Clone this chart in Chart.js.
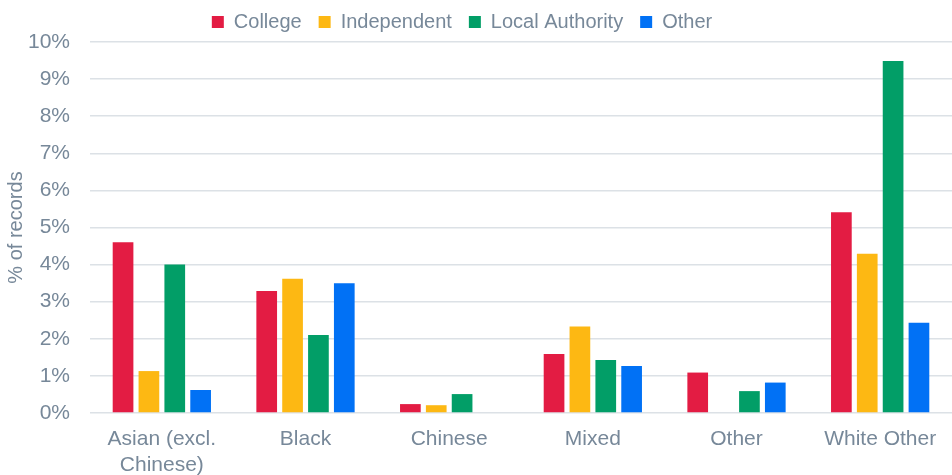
<!DOCTYPE html>
<html>
<head>
<meta charset="utf-8">
<script src="https://cdn.jsdelivr.net/npm/chart.js@4/dist/chart.umd.min.js"></script>
<style>
  html, body { margin: 0; padding: 0; background: #fff; }
  #wrap { width: 952px; height: 475px; }
</style>
</head>
<body>
<div id="wrap"><canvas id="c" width="952" height="475"></canvas></div>
<script>
// Ethnic group categories (multi-line labels where they wrap)
const categories = [['Asian (excl.', 'Chinese)'], 'Black', 'Chinese', 'Mixed', 'Other', 'White Other'];

// Share of records (%) by provider type
const college        = [4.6, 3.29, 0.24, 1.59, 1.09, 5.41];
const independent    = [1.13, 3.62, 0.21, 2.33, 0, 4.29];
const localAuthority = [4.0, 2.1, 0.51, 1.43, 0.59, 9.49];
const other          = [0.62, 3.5, 0, 1.27, 0.82, 2.43];

const seriesNames = ['College', 'Independent', 'Local Authority', 'Other'];
const seriesColors = ['#E31C43', '#FDB813', '#029E67', '#0171F5'];

// Y axis: 0% to 10% in 1% steps
const yMin = 0, yMax = 10, yStep = 1;

const textColor = '#778899';
const fontFamily = '"Liberation Sans", Arial, sans-serif';

const seriesValues = [college, independent, localAuthority, other];

// Nudge the legend row a little to the left of the canvas centre
const legendShift = {
  id: 'legendShift',
  afterLayout(chart) {
    if (chart.legend) {
      chart.legend.left -= 16;
      chart.legend.right -= 16;
    }
  }
};

new Chart(document.getElementById('c'), {
  type: 'bar',
  data: {
    labels: categories,
    datasets: seriesNames.map((name, i) => ({
      label: name,
      data: seriesValues[i],
      backgroundColor: seriesColors[i],
      borderWidth: 0,
      categoryPercentage: 0.72,
      barPercentage: 0.8
    }))
  },
  plugins: [legendShift],
  options: {
    responsive: false,
    animation: false,
    layout: { padding: { left: 4, right: 0, top: -5, bottom: 0 } },
    plugins: {
      legend: {
        position: 'top',
        labels: {
          color: textColor,
          font: { family: fontFamily, size: 20 },
          boxWidth: 12,
          boxHeight: 12,
          padding: 17
        }
      },
      tooltip: { enabled: false }
    },
    scales: {
      x: {
        grid: { display: false, drawTicks: false },
        border: { display: false },
        ticks: {
          color: textColor,
          font: { family: fontFamily, size: 21 },
          padding: 14,
          maxRotation: 0
        },
        afterFit: scale => { scale.height = 62; }
      },
      y: {
        min: yMin,
        max: yMax,
        grid: { color: '#DCE1E6', lineWidth: 1.5, drawTicks: false },
        border: { display: false },
        ticks: {
          stepSize: yStep,
          color: textColor,
          font: { family: fontFamily, size: 21 },
          padding: 20,
          callback: v => v + '%'
        },
        title: {
          display: true,
          text: '% of records',
          color: textColor,
          font: { family: fontFamily, size: 20 },
          padding: { top: 0, bottom: 2 }
        },
        afterFit: scale => { scale.width = 86; }
      }
    }
  }
});
</script>
</body>
</html>
